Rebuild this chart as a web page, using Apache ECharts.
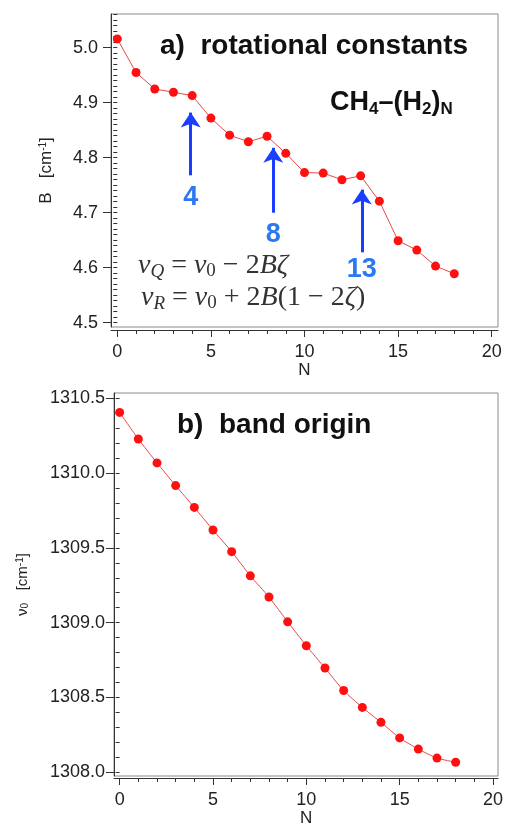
<!DOCTYPE html>
<html>
<head>
<meta charset="utf-8">
<script src="https://cdn.jsdelivr.net/npm/echarts@6/dist/echarts.min.js"></script>
<style>
	html, body { margin: 0; padding: 0; background: #fff; }
	#main { width: 506px; height: 828px; }
</style>
</head>
<body>
<div id="main"></div>
<script>
// cluster size
const nValues = [0, 1, 2, 3, 4, 5, 6, 7, 8, 9, 10, 11, 12, 13, 14, 15, 16, 17, 18];
// a) rotational constant B [cm-1]
const bValues = [5.016, 4.955, 4.925, 4.919, 4.913, 4.872, 4.841, 4.829, 4.839, 4.808,
	4.773, 4.772, 4.760, 4.767, 4.721, 4.649, 4.632, 4.603, 4.589];
// b) band origin nu0 [cm-1]
const nuValues = [1310.407, 1310.229, 1310.069, 1309.917, 1309.771, 1309.620, 1309.475, 1309.313,
	1309.171, 1309.005, 1308.845, 1308.696, 1308.545, 1308.432, 1308.332, 1308.228, 1308.153,
	1308.093, 1308.065];

// tick labels
const xTicks = [0, 5, 10, 15, 20];
const bTicks = [4.5, 4.6, 4.7, 4.8, 4.9, 5.0];
const nuTicks = [1308.0, 1308.5, 1309.0, 1309.5, 1310.0, 1310.5];

// arrows marking shell closures (N, tail B, tip B, label B)
const arrowN = [3.92, 8.33, 13.06];
const arrowFrom = [4.768, 4.700, 4.628];
const arrowTo = [4.882, 4.818, 4.742];
const arrowText = ['4', '8', '13'];
const arrowTextB = [4.727, 4.660, 4.596];

// minor ticks
const range = (a, b, step) => {
	const out = [];
	for (let i = 0; a + i * step <= b + 1e-9; i++) out.push(+(a + i * step).toFixed(3));
	return out;
};
const xMinor = range(0, 20, 1);
const bMinor = range(4.5, 5.06, 0.01);
const nuMinor = range(1308.0, 1310.5, 0.1);

const font = 'Liberation Sans, Arial, sans-serif';
const serif = 'Liberation Serif, Times New Roman, serif';
const axisCol = '#333';
const red = '#ff1010';
const blue = '#1b3dff';
const lblBlue = '#2a78f2';

const chart = echarts.init(document.getElementById('main'));

function majorAxis(extra) {
	return Object.assign({
		type: 'value',
		axisLine: { show: true, onZero: false, lineStyle: { color: axisCol, width: 1 } },
		splitLine: { show: false }
	}, extra);
}

function minorAxis(extra, ticks) {
	return Object.assign({
		type: 'value',
		axisLine: { show: false },
		axisTick: { show: true, length: 4, customValues: ticks, lineStyle: { color: axisCol } },
		axisLabel: { show: false },
		splitLine: { show: false }
	}, extra);
}

function xMajor(grid, min, max, offset) {
	return majorAxis({
		gridIndex: grid, min: min, max: max, position: 'bottom', offset: offset,
		axisTick: { show: true, length: 7, customValues: xTicks, lineStyle: { color: axisCol } },
		axisLabel: { color: '#222', fontSize: 18, fontFamily: font, margin: 13, customValues: xTicks },
		name: 'N', nameLocation: 'middle', nameGap: 32,
		nameTextStyle: { color: '#222', fontSize: 17, fontFamily: font }
	});
}

const supRich = {
	sup: { fontSize: 10, fontFamily: font, color: '#222', verticalAlign: 'top', lineHeight: 10 },
	sub: { fontSize: 10, fontFamily: font, color: '#222', verticalAlign: 'bottom', lineHeight: 10 }
};

const mathRich = {
	i: { font: 'italic 28px ' + serif, fill: '#333', lineHeight: 30, verticalAlign: 'middle' },
	r: { font: '28px ' + serif, fill: '#333', lineHeight: 30, verticalAlign: 'middle' },
	si: { font: 'italic 19px ' + serif, fill: '#333', lineHeight: 18, verticalAlign: 'bottom' },
	s: { font: '19px ' + serif, fill: '#333', lineHeight: 18, verticalAlign: 'bottom' }
};

const option = {
	animation: false,
	backgroundColor: '#fff',
	grid: [
		{ left: 111, top: 14, width: 387, height: 313, show: true, borderColor: '#8a8a8a', borderWidth: 1 },
		{ left: 114, top: 393, width: 388, height: 384, show: true, borderColor: '#8a8a8a', borderWidth: 1 }
	],
	xAxis: [
		xMajor(0, -0.337, 20.337, 3),
		minorAxis({ gridIndex: 0, min: -0.337, max: 20.337, position: 'bottom', offset: 3 }, xMinor),
		xMajor(1, -0.303, 20.27, 2),
		minorAxis({ gridIndex: 1, min: -0.303, max: 20.27, position: 'bottom', offset: 2 }, xMinor)
	],
	yAxis: [
		majorAxis({
			gridIndex: 0, min: 4.4922, max: 5.0613, position: 'left',
			axisTick: { show: true, length: 8, customValues: bTicks, lineStyle: { color: axisCol } },
			axisLabel: {
				color: '#222', fontSize: 18, fontFamily: font, margin: 13, customValues: bTicks,
				formatter: v => v.toFixed(1)
			},
			name: 'B   [cm{sup|-1}]', nameLocation: 'middle', nameGap: 56, nameRotate: 90,
			nameTextStyle: { color: '#222', fontSize: 17, fontFamily: font, rich: supRich }
		}),
		minorAxis({ gridIndex: 0, min: 4.4922, max: 5.0613, position: 'left' }, bMinor),
		majorAxis({
			gridIndex: 1, min: 1307.973, max: 1310.537, position: 'left',
			axisTick: { show: true, length: 8, customValues: nuTicks, lineStyle: { color: axisCol } },
			axisLabel: {
				color: '#222', fontSize: 18, fontFamily: font, margin: 9, customValues: nuTicks,
				formatter: v => v.toFixed(1)
			},
			name: 'ν{sub|0}   [cm{sup|-1}]', nameLocation: 'middle', nameGap: 84, nameRotate: 90,
			nameTextStyle: { color: '#222', fontSize: 15, fontFamily: font, rich: supRich }
		}),
		minorAxis({ gridIndex: 1, min: 1307.973, max: 1310.537, position: 'left' }, nuMinor)
	],
	series: [
		{
			type: 'line',
			xAxisIndex: 0,
			yAxisIndex: 0,
			data: nValues.map((n, i) => [n, bValues[i]]),
			symbol: 'circle',
			symbolSize: 9,
			clip: false,
			itemStyle: { color: red },
			lineStyle: { color: '#e84848', width: 1 },
			markLine: {
				silent: true,
				symbol: ['none', 'arrow'],
				symbolSize: 15,
				label: { show: false },
				lineStyle: { color: blue, width: 3, type: 'solid' },
				data: arrowN.map((n, i) => [
					{ coord: [n, arrowFrom[i]] },
					{ coord: [n, arrowTo[i]] }
				])
			},
			markPoint: {
				silent: true,
				symbol: 'rect',
				symbolSize: 1,
				itemStyle: { color: 'rgba(0,0,0,0)' },
				label: {
					show: true, position: 'inside', color: lblBlue, fontSize: 27,
					fontWeight: 'bold', fontFamily: font, formatter: p => p.name
				},
				data: arrowN.map((n, i) => ({ name: arrowText[i], coord: [n, arrowTextB[i]] }))
			}
		},
		{
			type: 'line',
			xAxisIndex: 2,
			yAxisIndex: 2,
			data: nValues.map((n, i) => [n, nuValues[i]]),
			symbol: 'circle',
			symbolSize: 9,
			clip: false,
			smooth: 0.2,
			itemStyle: { color: red },
			lineStyle: { color: '#e84848', width: 1 }
		}
	],
	graphic: [
		{
			type: 'text', x: 160, y: 46,
			style: {
				text: 'a)  rotational constants', font: 'bold 28px ' + font, fill: '#111',
				align: 'left', verticalAlign: 'middle'
			}
		},
		{
			type: 'text', x: 330, y: 103,
			style: {
				text: '{t|CH}{s|4}{t|–(H}{s|2}{t|)}{s|N}',
				align: 'left', verticalAlign: 'middle',
				rich: {
					t: { font: 'bold 27px ' + font, fill: '#111', lineHeight: 30, verticalAlign: 'middle' },
					s: { font: 'bold 17px ' + font, fill: '#111', lineHeight: 16, verticalAlign: 'bottom' }
				}
			}
		},
		{
			type: 'text', x: 177, y: 425,
			style: {
				text: 'b)  band origin', font: 'bold 28px ' + font, fill: '#111',
				align: 'left', verticalAlign: 'middle'
			}
		},
		{
			type: 'text', x: 138, y: 266,
			style: {
				text: '{i|ν}{si|Q}{r| = }{i|ν}{s|0}{r| − 2}{i|Bζ}',
				align: 'left', verticalAlign: 'middle', rich: mathRich
			}
		},
		{
			type: 'text', x: 141, y: 298,
			style: {
				text: '{i|ν}{si|R}{r| = }{i|ν}{s|0}{r| + 2}{i|B}{r|(1 − 2}{i|ζ}{r|)}',
				align: 'left', verticalAlign: 'middle', rich: mathRich
			}
		}
	]
};

chart.setOption(option);
</script>
</body>
</html>
